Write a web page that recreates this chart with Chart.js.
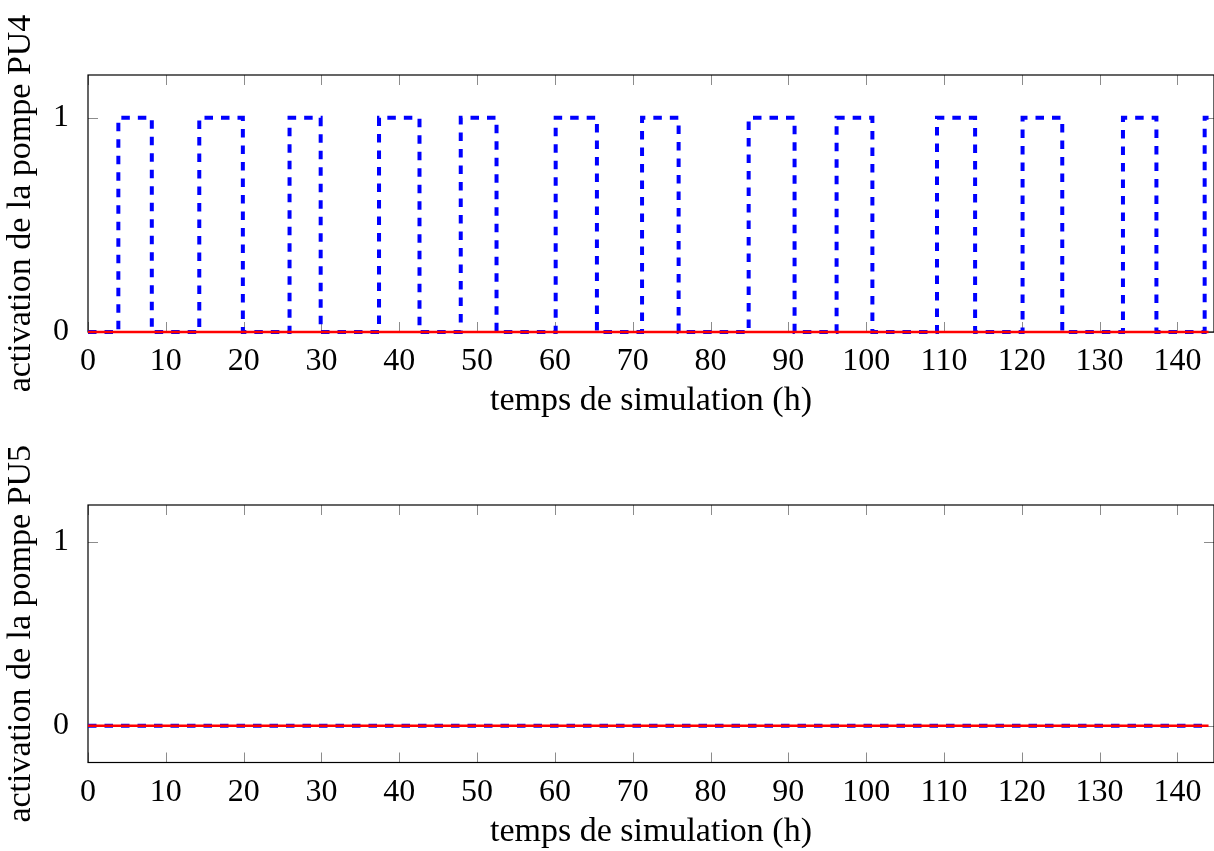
<!DOCTYPE html>
<html><head><meta charset="utf-8">
<script src="https://cdn.jsdelivr.net/npm/chart.js@4/dist/chart.umd.min.js"></script>
<style>
html,body{margin:0;padding:0;background:#fff;overflow:hidden}
#c1{position:absolute;left:0;top:0}
#c2{position:absolute;left:0;top:430px}
</style></head><body>
<canvas id="c1" width="1214" height="430"></canvas>
<canvas id="c2" width="1214" height="421"></canvas>
<script>
// ---- data ----
const xTicks = [0,10,20,30,40,50,60,70,80,90,100,110,120,130,140];
const yTicks = [0,1];
const pu4Times  = [0,3.9,8.2,14.3,19.9,25.9,29.9,37.4,42.6,47.9,52.5,60.1,65.4,71.2,75.9,84.9,90.8,96.2,100.8,109.1,114.0,120.1,125.2,133.0,137.3,143.5,144];
const pu4States = [0,1,  0,  1,   0,   1,   0,   1,   0,   1,   0,   1,   0,   1,   0,   1,   0,   1,   0,    1,    0,    1,    0,    1,    0,    1,    1];
const pu5Times  = [0,144];
const pu5States = [0,0];
const refTimes  = [0,144];
const refValues = [0,0];
const xTitle = 'temps de simulation (h)';
const yTitlePU4 = 'activation de la pompe PU4';
const yTitlePU5 = 'activation de la pompe PU5';

const FONT = 'Liberation Serif';

const boxPlugin = {
  id: 'boxTicks',
  beforeDatasetsDraw(chart) {
    const {ctx, chartArea: a, scales: {x, y}} = chart;
    ctx.save();
    ctx.strokeStyle = '#8c8c8c';
    ctx.lineWidth = 1;
    ctx.beginPath();
    x.ticks.forEach(t => {
      const px = Math.round(x.getPixelForValue(t.value)) + 0.5;
      ctx.moveTo(px, a.bottom); ctx.lineTo(px, a.bottom - 10);
      ctx.moveTo(px, a.top); ctx.lineTo(px, a.top + 10);
    });
    y.ticks.forEach(t => {
      const py = Math.round(y.getPixelForValue(t.value)) + 0.5;
      ctx.moveTo(a.left, py); ctx.lineTo(a.left + 10, py);
      ctx.moveTo(a.right, py); ctx.lineTo(a.right - 10, py);
    });
    ctx.stroke();
    ctx.strokeStyle = '#000';
    ctx.lineWidth = 1.2;
    ctx.strokeRect(a.left, a.top, a.right - a.left, a.bottom - a.top);
    ctx.restore();
  }
};

function makeChart(id, times, states, yTitle, yMin, axisH, titleBottomPad) {
  const pts = times.map((t, i) => ({x: t, y: states[i]}));
  const ref = refTimes.map((t, i) => ({x: t, y: refValues[i]}));
  return new Chart(document.getElementById(id), {
    type: 'line',
    data: {
      datasets: [
        {data: pts, borderColor: '#0000ff', borderWidth: 4, borderDash: [8.5, 8],
         stepped: 'before', pointRadius: 0, fill: false, clip: false, order: 2},
        {data: ref, borderColor: '#ff0000', borderWidth: 2.6, pointRadius: 0,
         fill: false, clip: false, order: 1}
      ]
    },
    options: {
      responsive: false,
      animation: false,
      parsing: false,
      layout: {padding: {top: 75, right: 0, left: 0, bottom: 0}},
      plugins: {legend: {display: false}, tooltip: {enabled: false}},
      scales: {
        x: {
          type: 'linear', position: 'bottom', min: 0, max: 144.7,
          grid: {display: false}, border: {display: false},
          afterBuildTicks: s => { s.ticks = xTicks.map(v => ({value: v})); },
          afterFit: s => { s.height = axisH; },
          ticks: {color: '#000', font: {family: FONT, size: 32, lineHeight: 1}, padding: 6,
                  maxRotation: 0, autoSkip: false},
          title: {display: true, text: xTitle, color: '#000',
                  font: {family: FONT, size: 34, lineHeight: 1}, padding: {top: 0, bottom: titleBottomPad}}
        },
        y: {
          type: 'linear', min: yMin, max: 1.2,
          grid: {display: false}, border: {display: false},
          afterBuildTicks: s => { s.ticks = yTicks.map(v => ({value: v})); },
          afterFit: s => { s.width = 88; },
          ticks: {color: '#000', font: {family: FONT, size: 32, lineHeight: 1}, padding: 11},
          title: {display: true, text: yTitle, color: '#000',
                  font: {family: FONT, size: 34, lineHeight: 1}, padding: {top: 4.5, bottom: 0}}
        }
      }
    },
    plugins: [boxPlugin]
  });
}

makeChart('c1', pu4Times, pu4States, yTitlePU4, 0, 98, 11.5);
makeChart('c2', pu5Times, pu5States, yTitlePU5, -0.2, 88.5, 2);
</script>
</body></html>
